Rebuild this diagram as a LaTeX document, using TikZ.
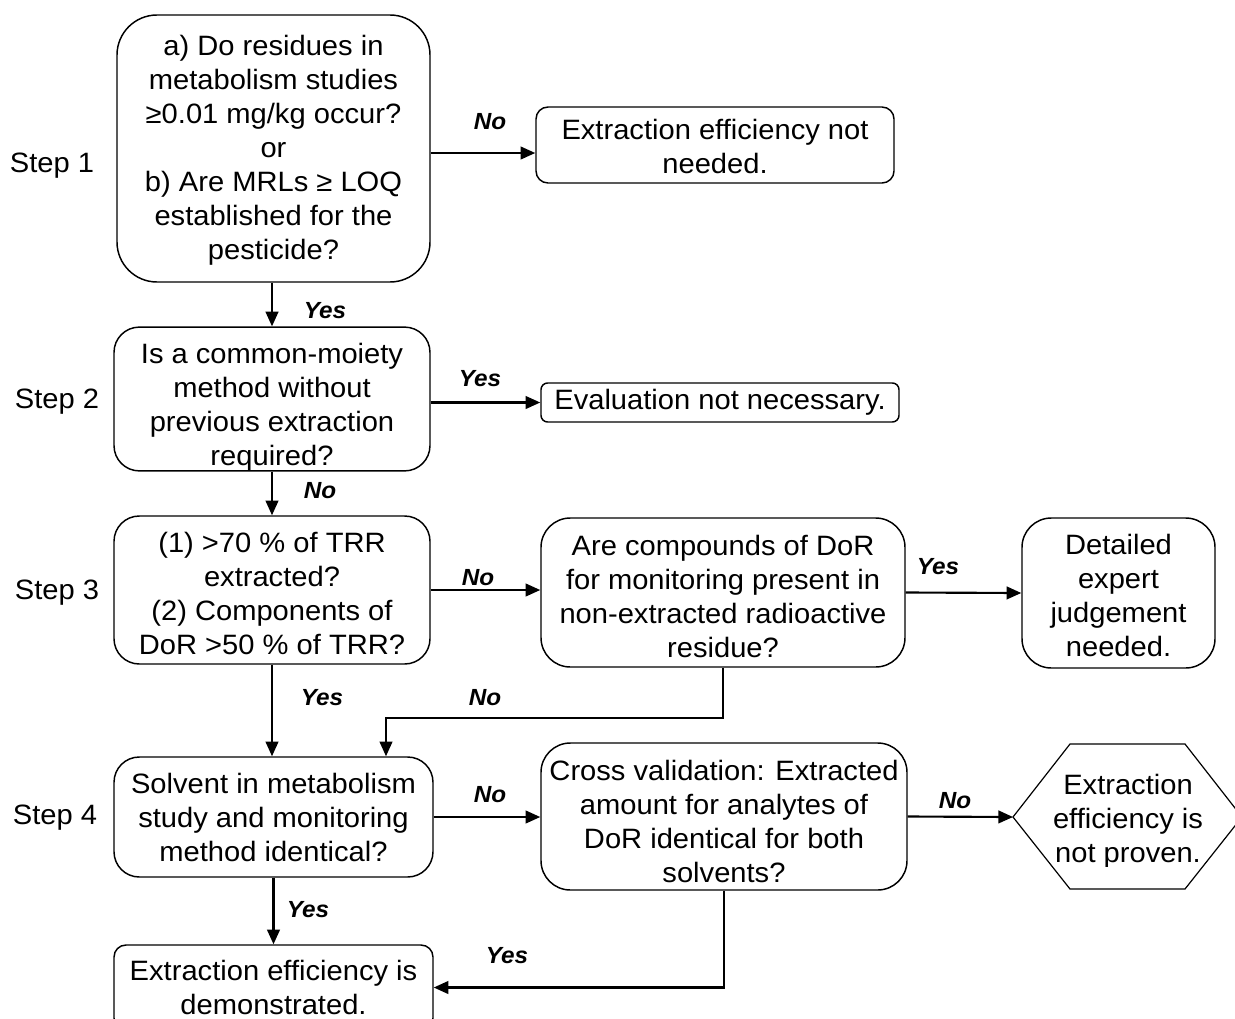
\documentclass[tikz,border=0pt]{standalone}
\usepackage{fontspec}
\setmainfont{Liberation Sans}[FakeStretch=1.04]
\usetikzlibrary{arrows.meta,calc}
\newcommand\mf{\fontsize{21pt}{25.5pt}\selectfont}
\newcommand\lf{\fontsize{17.5pt}{20pt}\selectfont\bfseries\itshape}
\begin{document}
\begin{tikzpicture}[x=0.75pt,y=-0.75pt,
  box/.style={draw,line width=1.1pt,align=center,inner sep=0pt,font=\mf},
  lbl/.style={font=\lf,inner sep=0pt},
  steplbl/.style={font=\mf,inner sep=0pt},
  arr/.style={line width=1.6pt,-{Triangle[length=11pt,width=9.5pt]}}]
\useasboundingbox (0,0) rectangle (1235,1018);
\clip (0,0) rectangle (1235,1018);

% step labels
\node[steplbl] (s1) at (52,166) {Step 1};
\node[steplbl] (s2) at (57,402) {Step 2};
\node[steplbl] (s3) at (57,593) {Step 3};
\node[steplbl] (s4) at (55,818) {Step 4};

% boxes
\node[box,rounded corners=30pt,minimum width=234.75pt,minimum height=200.25pt] (b1) at (273.5,148.5)
  {\rule{0pt}{18pt}a) Do residues in\\metabolism studies\\≥0.01 mg/kg occur?\\or\\b) Are MRLs ≥ LOQ\\established for the\\pesticide?};
\node[box,rounded corners=9pt,minimum width=268.5pt,minimum height=57pt] (n1) at (715,145)
  {\rule{0pt}{17pt}Extraction efficiency not\\needed.};
\begin{scope}
\clip (100,300) rectangle (445,471);
\node[box,rounded corners=19pt,minimum width=237pt,minimum height=106.5pt] (b2) at (272,399)
  {\rule{0pt}{27pt}Is a common-moiety\\method without\\previous extraction\\required?};
\end{scope}
\node[box,rounded corners=5pt,minimum width=268.5pt,minimum height=29.25pt] (n2) at (720,402.5)
  {Evaluation not necessary.};
\node[box,rounded corners=19pt,minimum width=237pt,minimum height=111pt] (b3) at (272,590)
  {\rule{0pt}{20pt}(1) >70 \% of TRR\\extracted?\\(2) Components of\\DoR >50 \% of TRR?};
\node[box,rounded corners=22pt,minimum width=273pt,minimum height=111.75pt] (b4) at (723,592.5)
  {\rule{0pt}{21pt}Are compounds of DoR\\for monitoring present in\\non-extracted radioactive\\residue?};
\node[box,rounded corners=22pt,minimum width=144.75pt,minimum height=112.5pt] (b5) at (1118.5,593)
  {\rule{0pt}{19pt}Detailed\\expert\\judgement\\needed.};
\node[box,rounded corners=19pt,minimum width=239.25pt,minimum height=90pt] (b6) at (273.5,817)
  {Solvent in metabolism\\study and monitoring\\method identical?};
\node[box,rounded corners=22pt,minimum width=274.5pt,minimum height=110.25pt] (b7) at (724,816.5)
  {\rule{0pt}{23pt}Cross validation: Extracted\\amount for analytes of\\DoR identical for both\\solvents?};
\node[box,rounded corners=9pt,minimum width=239.25pt,minimum height=63.75pt] (b8) at (273.5,987.5)
  {Extraction efficiency is\\demonstrated.};

% hexagon
\coordinate (hexL) at (1013,817);
\draw[line width=0.9pt] (hexL) -- (1070,744) -- (1185,744) -- (1242,817) -- (1185,889) -- (1070,889) -- cycle;
\begin{scope}
\clip (1000,740) rectangle (1240,866);
\node[font=\mf,align=center,inner sep=0pt] (hx) at (1128,821) {Extraction\\efficiency is\\not proven.};
\end{scope}

% connectors
\draw[arr] (b1.east) ++(0,4.5) coordinate (a1) -- (a1 -| n1.west);
\draw[arr] (b2.north |- b1.south) -- (b2.north);
\draw[arr] (n2.west -| b2.east) -- (n2.west);
\draw[arr] (b2.south) -- (b3.north);
\draw[arr] (b3.east) -- (b3.east -| b4.west);
\draw[arr] (b4.east) -- (b5.west);
\draw[arr] (b3.south) -- (b3.south |- b6.north);
\draw[arr] (b4.south) -- ++(0,50) -| ($(b6.north)+(112.5,0)$);
\draw[arr] (b6.east) -- (b6.east -| b7.west);
\draw[arr] (b7.east) -- (hexL);
\draw[arr] (b6.south) -- (b6.south |- b8.north);
\draw[arr] (b7.south) |- (b8.east);

% labels
\node[lbl] (l1) at (490,122) {No};
\node[lbl] (l2) at (325,311) {Yes};
\node[lbl] (l3) at (480,379) {Yes};
\node[lbl] (l4) at (320,491) {No};
\node[lbl] (l5) at (478,578) {No};
\node[lbl] (l6) at (938,567) {Yes};
\node[lbl] (l7) at (322,698) {Yes};
\node[lbl] (l8) at (485,698) {No};
\node[lbl] (l9) at (490,795) {No};
\node[lbl] (l10) at (955,801) {No};
\node[lbl] (l11) at (308,910) {Yes};
\node[lbl] (l12) at (507,956) {Yes};
\end{tikzpicture}
\end{document}
